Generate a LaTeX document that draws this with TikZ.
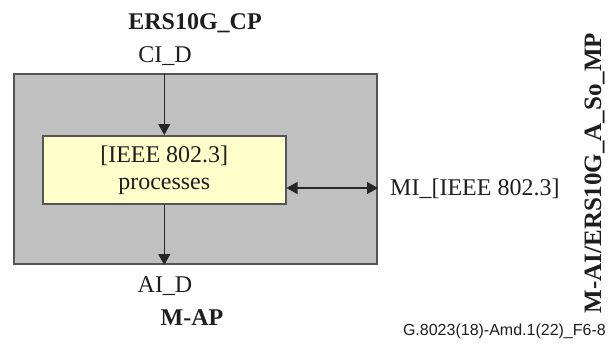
\documentclass[tikz,border=0pt]{standalone}
\usepackage{fontspec}
\setmainfont{Liberation Serif}
\newfontfamily\arialfont{Liberation Sans}
\usetikzlibrary{arrows.meta}
\definecolor{boxgray}{RGB}{192,192,192}
\definecolor{edgegray}{RGB}{85,85,85}
\definecolor{procyellow}{RGB}{255,255,204}
\definecolor{txt}{RGB}{30,30,30}
\tikzset{
  outerbox/.style={draw=edgegray, line width=2pt, fill=boxgray, inner sep=0pt, anchor=north west},
  procbox/.style={draw=edgegray, line width=1.5pt, fill=procyellow, inner sep=0pt, anchor=north west,
    align=center, text=txt, font=\fontsize{24}{27}\selectfont},
  lbl/.style={inner sep=0pt, anchor=base, text=txt, font=\fontsize{24}{27}\selectfont},
  blbl/.style={inner sep=0pt, anchor=base, text=txt, font=\fontsize{24}{27}\selectfont\bfseries},
  arr/.style={line width=1.3pt, draw=black!85, -{Triangle[length=11pt,width=12pt]}},
  darr/.style={line width=1.3pt, draw=black!85, {Triangle[length=11pt,width=12pt]}-{Triangle[length=11pt,width=12pt]}},
}
\begin{document}
\begin{tikzpicture}[x=1pt,y=-1pt]
\useasboundingbox (0,0) rectangle (608,343);
\node[outerbox, minimum width=363pt, minimum height=190pt] (outer) at (13,73) {};
\node[procbox, minimum width=243pt, minimum height=68pt] (proc) at (42,135) {[IEEE 802.3]\\processes};
\coordinate (hy) at (300,188);
\draw[arr] (proc.north |- outer.north) -- (proc.north);
\draw[arr] (proc.south) -- (proc.south |- outer.south);
\draw[darr] (proc.east |- hy) -- (outer.east |- hy);
\node[blbl] (cp) at (195,29) {ERS10G\_CP};
\node[lbl] (cid) at (165,62) {CI\_D};
\node[lbl] (aid) at (165,292) {AI\_D};
\node[blbl] (map) at (192,325) {M-AP};
\node[lbl, anchor=base west] (mi) at (390,195) {MI\_[IEEE 802.3]};
\node[blbl, rotate=90, font=\fontsize{25}{27}\selectfont\bfseries] (mp) at (601,173) {M-AI/ERS10G\_A\_So\_MP};
\node[inner sep=0pt, anchor=base east, text=txt, font=\arialfont\fontsize{16}{18}\selectfont] (fig) at (606,335) {G.8023(18)-Amd.1(22)\_F6-8};
\end{tikzpicture}
\end{document}
